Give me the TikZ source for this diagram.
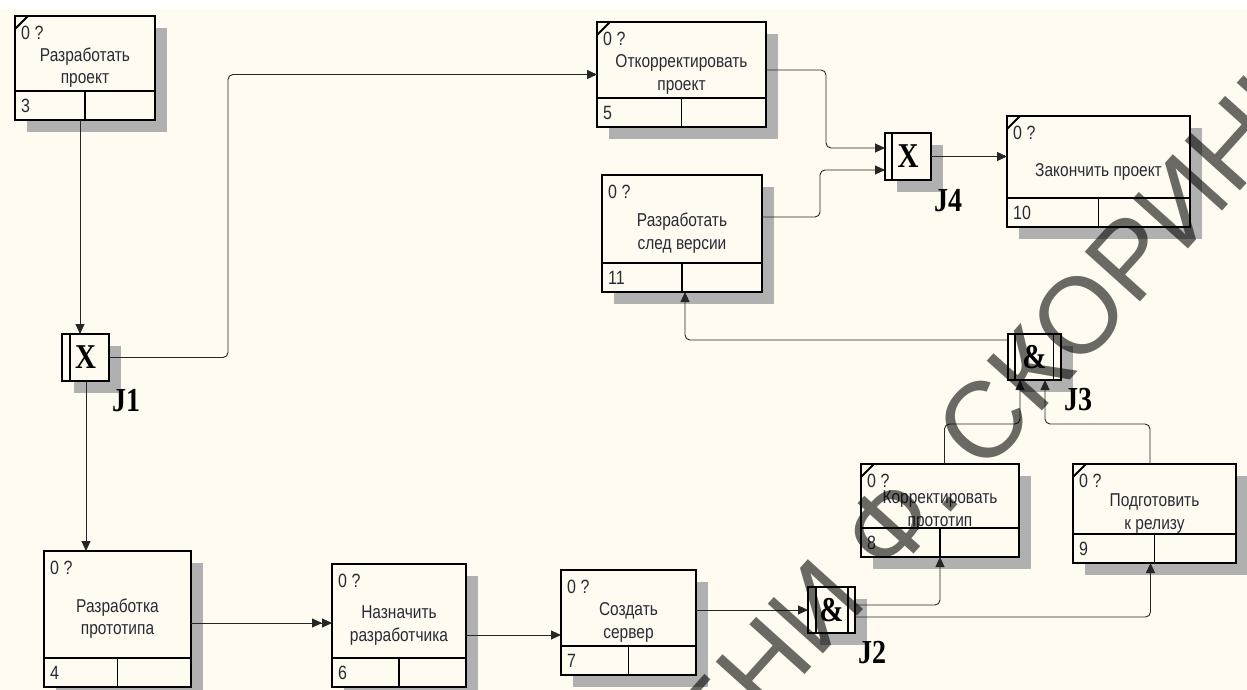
\documentclass[tikz,border=0pt]{standalone}
\usepackage{fontspec}
\setmainfont{Liberation Sans}
\newfontfamily\jfont{Liberation Serif}
\usetikzlibrary{arrows.meta, shadows}

\definecolor{paper}{HTML}{FFFBF0}
\definecolor{ink}{HTML}{2A2A35}
\definecolor{shade}{HTML}{B0B0B0}
\definecolor{wire}{HTML}{262626}

\newcommand{\tallbox}[1]{\scalebox{1}[1.2]{#1}}

\tikzset{
    uob/.style={
        draw=black,
        line width=1.8pt,
        fill=paper,
        outer sep=0pt,
        inner sep=0pt,
        general shadow={fill=shade, shadow xshift=12pt, shadow yshift=-12pt}
    },
    uobline/.style={
        draw=black,
        line width=1.8pt
    },
    uobtext/.style={
        inner sep=1pt,
        text=ink,
        font=\fontsize{16}{16}\selectfont
    },
    uobname/.style={
        inner sep=0pt,
        text=ink,
        font=\fontsize{15.5}{19}\selectfont
    },
    junction/.style={
        draw=black,
        line width=1.8pt,
        fill=paper,
        outer sep=0pt,
        inner sep=0pt,
        font=\jfont\bfseries\fontsize{29}{29}\selectfont,
        general shadow={fill=shade, shadow xshift=12pt, shadow yshift=-12pt}
    },
    jlabel/.style={
        inner sep=0pt,
        font=\jfont\bfseries\fontsize{28}{28}\selectfont
    },
    flow/.style={
        draw=wire,
        line width=0.9pt,
        rounded corners=5pt,
        -{Triangle[length=10pt, width=9pt]}
    },
    stamp/.style={
        rotate=48,
        inner sep=0pt,
        text=black,
        text opacity=0.58,
        font=\fontsize{108}{108}\selectfont
    }
}

% unit of behaviour: name, centre, width, height, number, text
\newcommand{\uob}[6]{%
    \node (#1) [uob, minimum width=#3pt, minimum height=#4pt] at (#2) {};
    \draw [uobline] ([yshift=29pt]#1.south west) -- ([yshift=29pt]#1.south east);
    \draw [uobline] ([yshift=29pt]#1.south) -- (#1.south);
    \node (#1-ref) [uobtext, anchor=west] at ([xshift=5pt, yshift=-17pt]#1.north west) {\tallbox{0 ?}};
    \node (#1-num) [uobtext, anchor=west] at ([xshift=5pt, yshift=14.5pt]#1.south west) {\tallbox{#5}};
    \node (#1-name) [uobname] at (#1.center) {\tallbox{\begin{tabular}{@{}c@{}}#6\end{tabular}}};
}
\newcommand{\uobtick}[1]{%
    \draw [uobline] ([yshift=-13pt]#1.north west) -- ([xshift=13pt]#1.north west);
}

\begin{document}
\begin{tikzpicture}[x=1pt, y=-1pt]
    \useasboundingbox (0,0) rectangle (1247,690);
    \fill [white] (0,0) rectangle (1247,9);
    \fill [paper] (0,9) rectangle (1247,690);

    % Units of behaviour
    \uob{u3}{85,68}{140}{104}{3}{Разработать\\проект}
    \uobtick{u3}
    \uob{u5}{681.5,74.5}{169}{105}{5}{Откорректировать\\проект}
    \uobtick{u5}
    \uob{u11}{682,233.5}{160}{117}{11}{Разработать\\след версии}
    \uob{u10}{1098.5,171.5}{183}{111}{10}{Закончить проект}
    \uobtick{u10}
    \uob{u4}{117.5,619}{147}{136}{4}{Разработка\\прототипа}
    \uob{u6}{399,625.5}{134}{123}{6}{Назначить\\разработчика}
    \uob{u7}{628.5,622.5}{135}{105}{7}{Создать\\сервер}
    \uob{u8}{940,510.5}{158}{93}{8}{Корректировать\\прототип}
    \uobtick{u8}
    \uob{u9}{1154.5,513.5}{163}{99}{9}{Подготовить\\к релизу}
    \uobtick{u9}

    % Junctions
    \node (j1) [junction, minimum width=47pt, minimum height=47pt] at (85.5,357.5) {\tallbox{X}};
    \draw [uobline] ([xshift=8pt]j1.north west) -- ([xshift=8pt]j1.south west);
    \node (j1-lab) [jlabel] at ([xshift=17pt, yshift=-20pt]j1.south east) {\tallbox{J1}};

    \node (j4) [junction, minimum width=46pt, minimum height=47pt] at (908,156.5) {\tallbox{X}};
    \draw [uobline] ([xshift=7pt]j4.north west) -- ([xshift=7pt]j4.south west);
    \node (j4-lab) [jlabel] at ([xshift=17pt, yshift=-21pt]j4.south east) {\tallbox{J4}};

    \node (j2) [junction, minimum width=47pt, minimum height=46pt] at (831.5,610) {\tallbox{\&}};
    \draw [uobline] ([xshift=8pt]j2.north west) -- ([xshift=8pt]j2.south west);
    \draw [uobline] ([xshift=-7pt]j2.north east) -- ([xshift=-7pt]j2.south east);
    \node (j2-lab) [jlabel] at ([xshift=17pt, yshift=-20pt]j2.south east) {\tallbox{J2}};

    \node (j3) [junction, minimum width=53pt, minimum height=46pt] at (1034.5,357) {\tallbox{\&}};
    \draw [uobline] ([xshift=7pt]j3.north west) -- ([xshift=7pt]j3.south west);
    \draw [uobline] ([xshift=-7.5pt]j3.north east) -- ([xshift=-7.5pt]j3.south east);
    \node (j3-lab) [jlabel] at ([xshift=17pt, yshift=-20pt]j3.south east) {\tallbox{J3}};

    % Links
    \draw [flow] ([xshift=-5pt]u3.south) -- ([xshift=-5.5pt]j1.north);
    \draw [flow] (j1.east) -- ++(119,0) |- (u5.west);
    \draw [flow] ([xshift=0.5pt]j1.south) -- ([xshift=0.5pt]j1.south |- u4.north);
    \draw [flow, -{Triangle[length=10pt, width=9pt] Triangle[length=10pt, width=9pt]}]
        ([yshift=-4pt]u4.east) -- ([yshift=-4pt]u4.east -| u6.west);
    \draw [flow] ([yshift=-9.5pt]u6.east) -- ([yshift=-9.5pt]u6.east -| u7.west);
    \draw [flow] (u7.east |- j2.west) -- (j2.west);
    \draw [flow] ([yshift=5pt]j2.east) -| (u8.south);
    \draw [flow] ([yshift=-7pt]j2.east) -| ([xshift=-4pt]u9.south);
    \draw [flow] ([xshift=4.5pt]u8.north) -- ++(0,-40) -| ([xshift=-14.5pt]j3.south);
    \draw [flow] ([xshift=-4.5pt]u9.north) -- ++(0,-40) -| ([xshift=10.5pt]j3.south);
    \draw [flow] ([yshift=17pt]j3.west) -| ([xshift=3pt]u11.south);
    \draw [flow] ([yshift=4.5pt]u5.east) -- ++(60,0) |- ([yshift=8.5pt]j4.west);
    \draw [flow] ([yshift=16.5pt]u11.east) -- ++(58,0) |- ([yshift=-13.5pt]j4.west);
    \draw [flow] (j4.east) -- (j4.east -| u10.west);

    % Watermark
    \begin{scope}
        \clip (0,0) rectangle (1247,690);
        \node (stamp) [stamp] at (950,458) {ИМЕНИ Ф. СКОРИНЫ};
    \end{scope}
\end{tikzpicture}
\end{document}
